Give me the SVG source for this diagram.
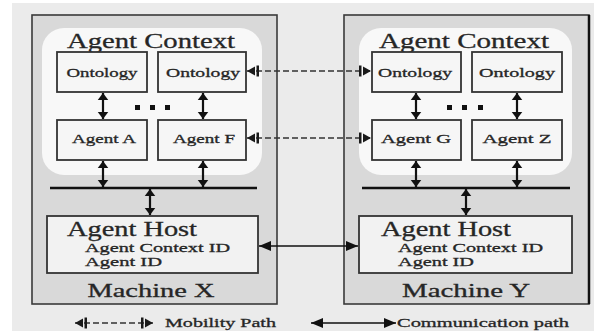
<svg xmlns="http://www.w3.org/2000/svg" width="594" height="331" viewBox="0 0 594 331">
<defs>
<style>
.bg{fill:#ffffff}
.outer{fill:#ebebeb}
.machine{fill:#d9d9d9;stroke:#3a3a3a;stroke-width:1.6}
.ctx{fill:#f8f8f8;stroke:none}
.box{fill:#f6f6f6;stroke:#333;stroke-width:1.8}
.host{fill:#f2f2f2;stroke:#333;stroke-width:1.8}
.t{font-family:"Liberation Serif","Times New Roman",serif;fill:#262626;stroke:#262626;stroke-width:0.3}
.title{font-size:21px}
.small{font-size:13px}
.mid{font-size:13px}
.big{font-size:19px}
.bus{stroke:#111;stroke-width:2.6}
.va{stroke:#111;stroke-width:2.2;marker-start:url(#ah);marker-end:url(#ah)}
.mob{stroke:#333;stroke-width:1.3;stroke-dasharray:6 3;fill:none;marker-start:url(#mh);marker-end:url(#mh)}
.com{stroke:#111;stroke-width:1.6;fill:none;marker-start:url(#ch);marker-end:url(#ch)}
</style>
<marker id="ah" markerUnits="userSpaceOnUse" markerWidth="14" markerHeight="14" viewBox="-8 -7 16 14" refX="0" refY="0" orient="auto-start-reverse" overflow="visible">
<path d="M-8,-6 L0,0 L-8,6 Z" fill="#111"/>
</marker>
<marker id="mh" markerUnits="userSpaceOnUse" markerWidth="20" markerHeight="14" viewBox="-14 -7 20 14" refX="0" refY="0" orient="auto-start-reverse" overflow="visible">
<path d="M-8,-4.5 L0,0 L-8,4.5 Z" fill="#1a1a1a"/>
<rect x="-12" y="-5.5" width="2.5" height="11" fill="#1a1a1a"/>
</marker>
<marker id="ch" markerUnits="userSpaceOnUse" markerWidth="16" markerHeight="12" viewBox="-12 -6 16 12" refX="0" refY="0" orient="auto-start-reverse" overflow="visible">
<path d="M-12,-5 L0,0 L-12,5 Z" fill="#111"/>
</marker>
</defs>
<rect class="bg" x="0" y="0" width="594" height="331"/>
<rect class="outer" x="12" y="3" width="582" height="328"/>

<g id="machine-x">
<rect class="machine" x="32" y="15" width="245" height="289"/>
<text class="t big" x="151" y="297" text-anchor="middle" textLength="127" lengthAdjust="spacingAndGlyphs">Machine X</text>
</g>
<g id="machine-y">
<rect class="machine" x="344" y="15" width="245" height="289"/>
<line x1="589" y1="15" x2="589" y2="304" stroke="#111" stroke-width="2.5"/>
<text class="t big" x="466" y="297" text-anchor="middle" textLength="128" lengthAdjust="spacingAndGlyphs">Machine Y</text>
</g>

<g id="context-x">
<rect class="ctx" x="42" y="28" width="220" height="147" rx="22"/>
<text class="t title" x="151" y="48" text-anchor="middle" textLength="168" lengthAdjust="spacingAndGlyphs">Agent Context</text>
<rect x="135" y="105" width="5" height="5" fill="#111"/>
<rect x="150" y="105" width="5" height="5" fill="#111"/>
<rect x="165" y="105" width="5" height="5" fill="#111"/>
</g>
<g id="context-y">
<rect class="ctx" x="359" y="28" width="213" height="147" rx="22"/>
<text class="t title" x="464" y="48" text-anchor="middle" textLength="170" lengthAdjust="spacingAndGlyphs">Agent Context</text>
<rect x="447" y="105" width="5" height="5" fill="#111"/>
<rect x="462" y="105" width="5" height="5" fill="#111"/>
<rect x="478" y="105" width="5" height="5" fill="#111"/>
</g>

<g id="ontology-x1">
<rect class="box" x="57" y="52" width="90" height="40"/>
<text class="t small" x="102" y="77" text-anchor="middle" textLength="71" lengthAdjust="spacingAndGlyphs">Ontology</text>
</g>
<g id="ontology-x2">
<rect class="box" x="158" y="52" width="88" height="40"/>
<text class="t small" x="203" y="77" text-anchor="middle" textLength="74" lengthAdjust="spacingAndGlyphs">Ontology</text>
</g>
<g id="agent-a">
<rect class="box" x="57" y="120" width="90" height="40"/>
<text class="t small" x="104" y="143" text-anchor="middle" textLength="64" lengthAdjust="spacingAndGlyphs">Agent A</text>
</g>
<g id="agent-f">
<rect class="box" x="158" y="120" width="88" height="40"/>
<text class="t small" x="204" y="143" text-anchor="middle" textLength="62" lengthAdjust="spacingAndGlyphs">Agent F</text>
</g>

<g id="ontology-y1">
<rect class="box" x="372" y="52" width="89" height="40"/>
<text class="t small" x="415" y="77" text-anchor="middle" textLength="74" lengthAdjust="spacingAndGlyphs">Ontology</text>
</g>
<g id="ontology-y2">
<rect class="box" x="472" y="52" width="90" height="40"/>
<text class="t small" x="517" y="77" text-anchor="middle" textLength="76" lengthAdjust="spacingAndGlyphs">Ontology</text>
</g>
<g id="agent-g">
<rect class="box" x="372" y="120" width="89" height="40"/>
<text class="t small" x="416" y="143" text-anchor="middle" textLength="70" lengthAdjust="spacingAndGlyphs">Agent G</text>
</g>
<g id="agent-z">
<rect class="box" x="472" y="120" width="90" height="40"/>
<text class="t small" x="517" y="143" text-anchor="middle" textLength="69" lengthAdjust="spacingAndGlyphs">Agent Z</text>
</g>

<g id="host-x">
<rect class="host" x="47" y="216" width="211" height="57"/>
<text class="t title" x="67" y="236" textLength="130" lengthAdjust="spacingAndGlyphs">Agent Host</text>
<text class="t mid" x="85" y="252" textLength="145" lengthAdjust="spacingAndGlyphs">Agent Context ID</text>
<text class="t mid" x="85" y="266" textLength="77" lengthAdjust="spacingAndGlyphs">Agent ID</text>
</g>
<g id="host-y">
<rect class="host" x="359" y="216" width="213" height="57"/>
<text class="t title" x="381" y="236" textLength="130" lengthAdjust="spacingAndGlyphs">Agent Host</text>
<text class="t mid" x="398" y="252" textLength="145" lengthAdjust="spacingAndGlyphs">Agent Context ID</text>
<text class="t mid" x="398" y="266" textLength="76" lengthAdjust="spacingAndGlyphs">Agent ID</text>
</g>

<g id="connectors">
<line class="bus" x1="50" y1="188" x2="257" y2="188"/>
<line class="bus" x1="362" y1="188" x2="570" y2="188"/>
<line class="va" x1="103" y1="93" x2="103" y2="119"/>
<line class="va" x1="203" y1="93" x2="203" y2="119"/>
<line class="va" x1="103" y1="161" x2="103" y2="187"/>
<line class="va" x1="203" y1="161" x2="203" y2="187"/>
<line class="va" x1="150" y1="189" x2="150" y2="215"/>
<line class="va" x1="416" y1="93" x2="416" y2="119"/>
<line class="va" x1="517" y1="93" x2="517" y2="119"/>
<line class="va" x1="416" y1="161" x2="416" y2="187"/>
<line class="va" x1="517" y1="161" x2="517" y2="187"/>
<line class="va" x1="466" y1="189" x2="466" y2="215"/>
<line class="mob" x1="247" y1="71" x2="371" y2="71"/>
<line class="mob" x1="247" y1="138" x2="371" y2="138"/>
<line class="com" x1="259" y1="246" x2="358" y2="246"/>
</g>

<g id="legend">
<line class="mob" x1="75" y1="323" x2="153" y2="323"/>
<text class="t small" x="165" y="327" textLength="111" lengthAdjust="spacingAndGlyphs">Mobility Path</text>
<line class="com" x1="311" y1="323" x2="396" y2="323"/>
<text class="t small" x="397" y="327" textLength="172" lengthAdjust="spacingAndGlyphs">Communication path</text>
</g>
</svg>
